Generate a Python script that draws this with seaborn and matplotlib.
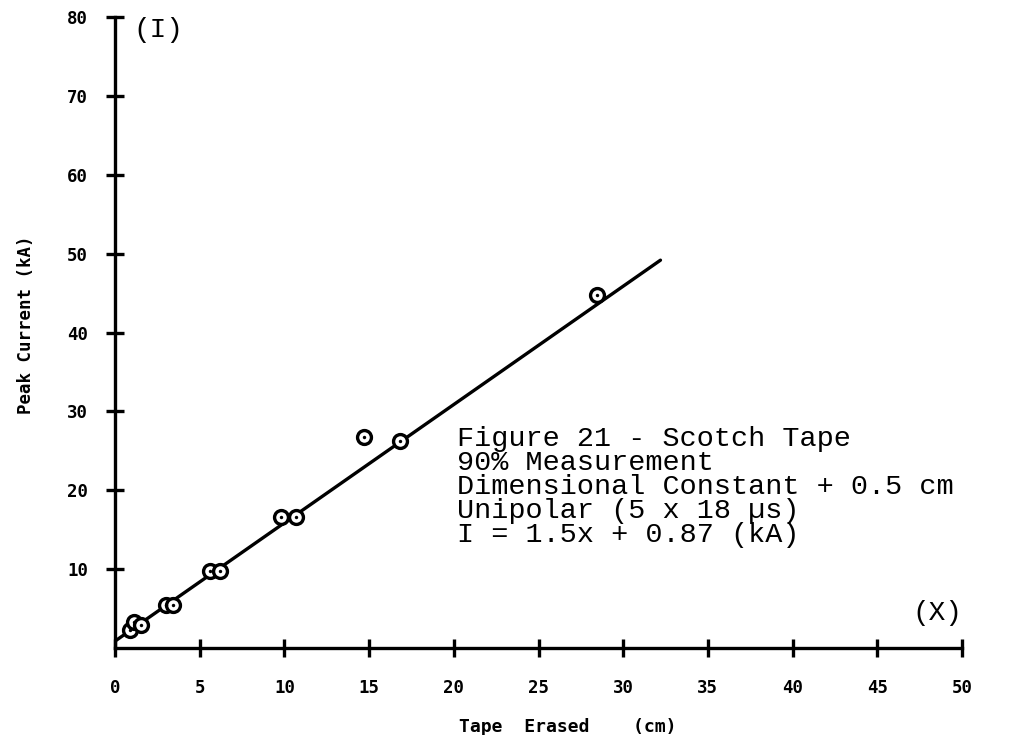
import matplotlib
matplotlib.use("Agg")
import matplotlib.pyplot as plt
import seaborn as sns
import numpy as np
import pandas as pd

# Measured points: tape erased (cm) vs. peak current (kA)
tape_erased = [0.9, 1.1, 1.55, 3.0, 3.45, 5.6, 6.2, 9.8, 10.7, 14.7, 16.85, 28.45]
peak_current = [2.3, 3.3, 2.9, 5.4, 5.4, 9.75, 9.75, 16.6, 16.6, 26.7, 26.3, 44.7]

# Fitted line I = 1.5x + 0.87 (kA)
fit_slope = 1.5
fit_intercept = 0.87
fit_x = [0.0, 32.2]

x_ticks = [0, 5, 10, 15, 20, 25, 30, 35, 40, 45, 50]
y_ticks = [10, 20, 30, 40, 50, 60, 70, 80]

note_lines = [
    "Figure 21 - Scotch Tape",
    "90% Measurement",
    "Dimensional Constant + 0.5 cm",
    "Unipolar (5 x 18 \u00b5s)",
    "I = 1.5x + 0.87 (kA)",
]

sns.set_theme(style="white")
plt.rcParams["font.family"] = ["DejaVu Sans Mono", "DejaVu Sans"]
plt.rcParams["text.color"] = "black"
plt.rcParams["axes.labelcolor"] = "black"
plt.rcParams["xtick.color"] = "black"
plt.rcParams["ytick.color"] = "black"

W, H = 1022, 735
fig = plt.figure(figsize=(W / 100, H / 100), dpi=100)
ax = fig.add_axes([115 / W, 1 - 648 / H, (962 - 115) / W, (648 - 17) / H])

points = pd.DataFrame({"x": tape_erased, "y": peak_current})
fit = pd.DataFrame({"x": fit_x, "y": [fit_slope * v + fit_intercept for v in fit_x]})

sns.lineplot(data=fit, x="x", y="y", ax=ax, color="black", linewidth=2.4, zorder=2)
sns.scatterplot(data=points, x="x", y="y", ax=ax, marker="o", s=100,
                facecolor="white", edgecolor="black", linewidth=2.4, zorder=3)
sns.scatterplot(data=points, x="x", y="y", ax=ax, marker="o", s=6,
                color="black", linewidth=0, zorder=4)

ax.set_xlim(0, 50)
ax.set_ylim(0, 80)
ax.set_xticks(x_ticks)
ax.set_yticks(y_ticks)
ax.set_xticklabels([str(v) for v in x_ticks], fontsize=12.5, fontweight="bold")
ax.set_yticklabels([str(v) for v in y_ticks], fontsize=12.5, fontweight="bold")

for side in ("top", "right"):
    ax.spines[side].set_visible(False)
for side in ("left", "bottom"):
    ax.spines[side].set_linewidth(2.4)
    ax.spines[side].set_color("black")
ax.tick_params(axis="both", which="major", bottom=True, left=True,
               direction="inout", length=13, width=2.4, color="black",
               labelcolor="black")
ax.tick_params(axis="x", pad=16)
ax.tick_params(axis="y", pad=13)
ax.patch.set_alpha(0)

ax.set_xlabel("Tape  Erased    (cm)", fontsize=13, fontweight="bold")
ax.set_ylabel("Peak Current (kA)", fontsize=12.5, fontweight="bold")
ax.xaxis.set_label_coords((568 - 115) / (962 - 115), -(718 - 648) / (648 - 17))
ax.yaxis.set_label_coords(-(115 - 35) / (962 - 115), (648 - 325) / (648 - 17))

mono = ["Liberation Mono", "DejaVu Sans Mono"]
fig.text(133 / W, 1 - 30 / H, "(I)", family=mono, fontsize=20, va="center", ha="left")
fig.text(962 / W, 1 - 613 / H, "(X)", family=mono, fontsize=20, va="center", ha="right")

baselines = [446, 470, 494, 518, 542]
for line, py in zip(note_lines, baselines):
    fig.text(457 / W, 1 - py / H, line, family=mono, fontsize=20.5,
             va="baseline", ha="left")

fig.savefig("out.png", dpi=100)
